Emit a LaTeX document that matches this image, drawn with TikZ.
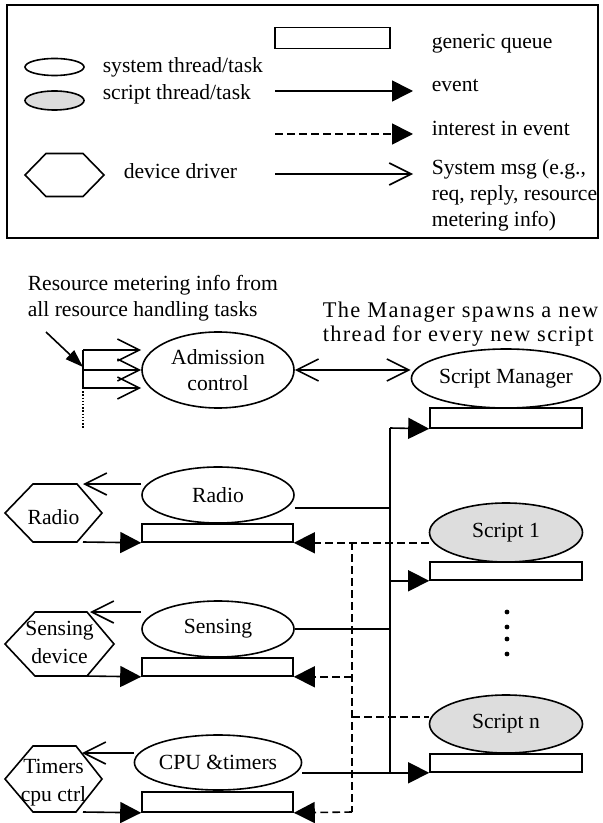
\documentclass[tikz,border=0pt]{standalone}
\usepackage{fontspec}
\setmainfont{Liberation Serif}
\usetikzlibrary{arrows.meta,shapes.geometric}
\definecolor{scriptgray}{RGB}{221,221,221}
\tikzset{
  task/.style={draw, ellipse, inner sep=0pt, align=center},
  script/.style={task, fill=scriptgray},
  queue/.style={draw, rectangle, fill=white, inner sep=0pt},
  event/.style={-{Triangle[length=10.5pt,width=10.5pt]}},
  dashline/.style={dash pattern=on 3.8pt off 2.2pt},
  interest/.style={event, dashline},
  sysmsg/.style={-{Straight Barb[length=11pt,width=11pt]}},
  sysboth/.style={{Straight Barb[length=11pt,width=11pt]}-{Straight Barb[length=11pt,width=11pt]}},
  devtext/.style={align=center, inner sep=0pt, font=\fontsize{10.8}{14}\selectfont},
  note/.style={align=left, anchor=west, inner sep=0pt}
}

\begin{document}
\begin{tikzpicture}[x=0.5pt, y=-0.5pt, line width=0.8pt, font=\fontsize{10.8}{13}\selectfont]
\useasboundingbox (0,0) rectangle (602,823);

\draw (7,5) rectangle (598,238);
\node [queue, minimum width=57.5pt, minimum height=10.5pt] (legQ) at (332.5,38) {};
\node [note] (legQt) at (431,44) {generic queue};
\node [task, minimum width=29.5pt, minimum height=8.5pt] (legSys) at (54.5,67) {};
\node [script, minimum width=29.5pt, minimum height=9.5pt] (legScr) at (54.5,100.5) {};
\node [note] (legSyst) at (102,67) {system thread/task};
\node [note] (legScrt) at (102,94) {script thread/task};

\coordinate (legEa) at (275,91);
\coordinate (legEb) at (413,91);
\draw [event] (legEa) -- (legEb);
\node [note] (legEt) at (431,86) {event};
\coordinate (legIa) at (275,134);
\coordinate (legIb) at (413,134);
\draw [interest] (legIa) -- (legIb);
\node [note] (legIt) at (431,128) {interest in event};

\draw (25,175) -- (46,153.5) -- (83,153.5) -- (104,175) -- (83,196.5) -- (46,196.5) -- cycle;
\node [note] (legDt) at (123,171) {device driver};
\coordinate (legMa) at (275,174);
\coordinate (legMb) at (413,174);
\draw [sysmsg] (legMa) -- (legMb);
\node [note] (legMt) at (431,195) {System msg (e.g.,\\req, reply, resource\\metering info)};

\node [note] (resNote) at (27,298.5) {Resource metering info from\\all resource handling tasks};
\node [note, font=\fontsize{11.2}{12.2}\selectfont\addfontfeature{LetterSpace=6}] (mgrNote) at (322,324) {The Manager spawns a new\\thread for every new script};

\node [task, minimum width=76pt, minimum height=38pt] (adm) at (218,370) {Admission\\control};
\node [task, minimum width=77pt, minimum height=29.5pt] (sm) at (506,378.5) {Script Manager};
\node [queue, minimum width=76pt, minimum height=10pt] (smQ) at (506,418) {};
\node [script, minimum width=76.5pt, minimum height=29.5pt] (sc1) at (506,532.5) {Script 1};
\node [queue, minimum width=76pt, minimum height=9pt] (sc1Q) at (506,571) {};
\node [script, minimum width=76.5pt, minimum height=29pt] (scn) at (506,724) {Script n};
\node [queue, minimum width=76pt, minimum height=9pt] (scnQ) at (506,763) {};
\foreach \y in {612,627,639,654}
  \fill (507,\y) circle [radius=1.2pt];

\node [task, minimum width=76pt, minimum height=28pt] (radT) at (218,495) {Radio};
\node [queue, minimum width=75.5pt, minimum height=9pt] (radQ) at (217.5,533) {};
\node [task, minimum width=76pt, minimum height=28pt] (sensT) at (218,629) {Sensing};
\node [queue, minimum width=75.5pt, minimum height=9pt] (sensQ) at (217.5,667) {};
\node [task, minimum width=75.5pt, minimum height=27.5pt] (cpuT) at (218,762.5) {CPU \&timers};
\node [queue, minimum width=75.5pt, minimum height=10pt] (cpuQ) at (217.5,802) {};

\coordinate (brTop) at (83,350);
\coordinate (brMid) at (83,370);
\coordinate (brBot) at (83,388);
\coordinate (brEnd) at (83,428);
\coordinate (resTail) at (46,332);
\coordinate (resTip) at (83,367);
\draw (brTop) -- (brBot);
\draw [sysmsg] (brTop) -- (brTop -| adm.west);
\draw [sysmsg] (brMid) -- (adm.west);
\draw [sysmsg] (brBot) -- (brBot -| adm.west);
\draw [dash pattern=on 0.7pt off 0.9pt] (brBot) -- (brEnd);
\draw [-{Triangle[length=9pt,width=6pt]}] (resTail) -- (resTip);
\draw [sysboth] (adm.east) -- (adm.east -| sm.west);

\coordinate (busTop) at (390,428);
\coordinate (busBot) at (390,772);
\draw (busTop) -- (busBot);
\draw [event] (busTop) -- (smQ.south west);
\draw (radT.east |- 0,508) -- (busTop |- 0,508);
\draw [event] (busTop |- sc1Q.south) -- (sc1Q.south west);
\draw (sensT.east) -- (sensT.east -| busTop);
\draw [event] (cpuT.east |- scnQ.south) -- (scnQ.south west);

\coordinate (dashTop) at (352,542);
\coordinate (dashBot) at (352,812);
\draw [interest] (sc1.west |- radQ.south) -- (radQ.south east);
\draw [dashline] (dashTop) -- (dashBot);
\draw [interest] (dashTop |- sensQ.south) -- (sensQ.south east);
\draw [interest] (dashBot) -- (cpuQ.south east);
\draw [dashline] (dashTop |- 0,717) -- (scn.west |- 0,717);

\draw (5,513) -- (33,484) -- (77,484) -- (102,513) -- (77,542) -- (33,542) -- cycle;
\node [devtext] (radD) at (53.5,517) {Radio};
\coordinate (radDin) at (83,484);
\coordinate (radDout) at (83,542);
\draw [sysmsg] (radT.west |- radDin) -- (radDin);
\draw [event] (radDout) -- (radQ.south west);

\draw (5,644) -- (35,612) -- (87,612) -- (114,644) -- (87,676) -- (35,676) -- cycle;
\node [devtext] (sensD) at (59.5,642) {Sensing\\device};
\coordinate (sensDin) at (90,612);
\coordinate (sensDout) at (86,676);
\draw [sysmsg] (sensT.west |- sensDin) -- (sensDin);
\draw [event] (sensDout) -- (sensQ.south west);

\draw (5,779) -- (33,746) -- (76,746) -- (102,779) -- (76,812) -- (33,812) -- cycle;
\node [devtext] (cpuD) at (53.5,782.5) {Timers\\cpu ctrl};
\coordinate (cpuDin) at (82,753);
\coordinate (cpuDout) at (83,812);
\draw [sysmsg] (cpuT.west |- cpuDin) -- (cpuDin);
\draw [event] (cpuDout) -- (cpuQ.south west);
\end{tikzpicture}
\end{document}
